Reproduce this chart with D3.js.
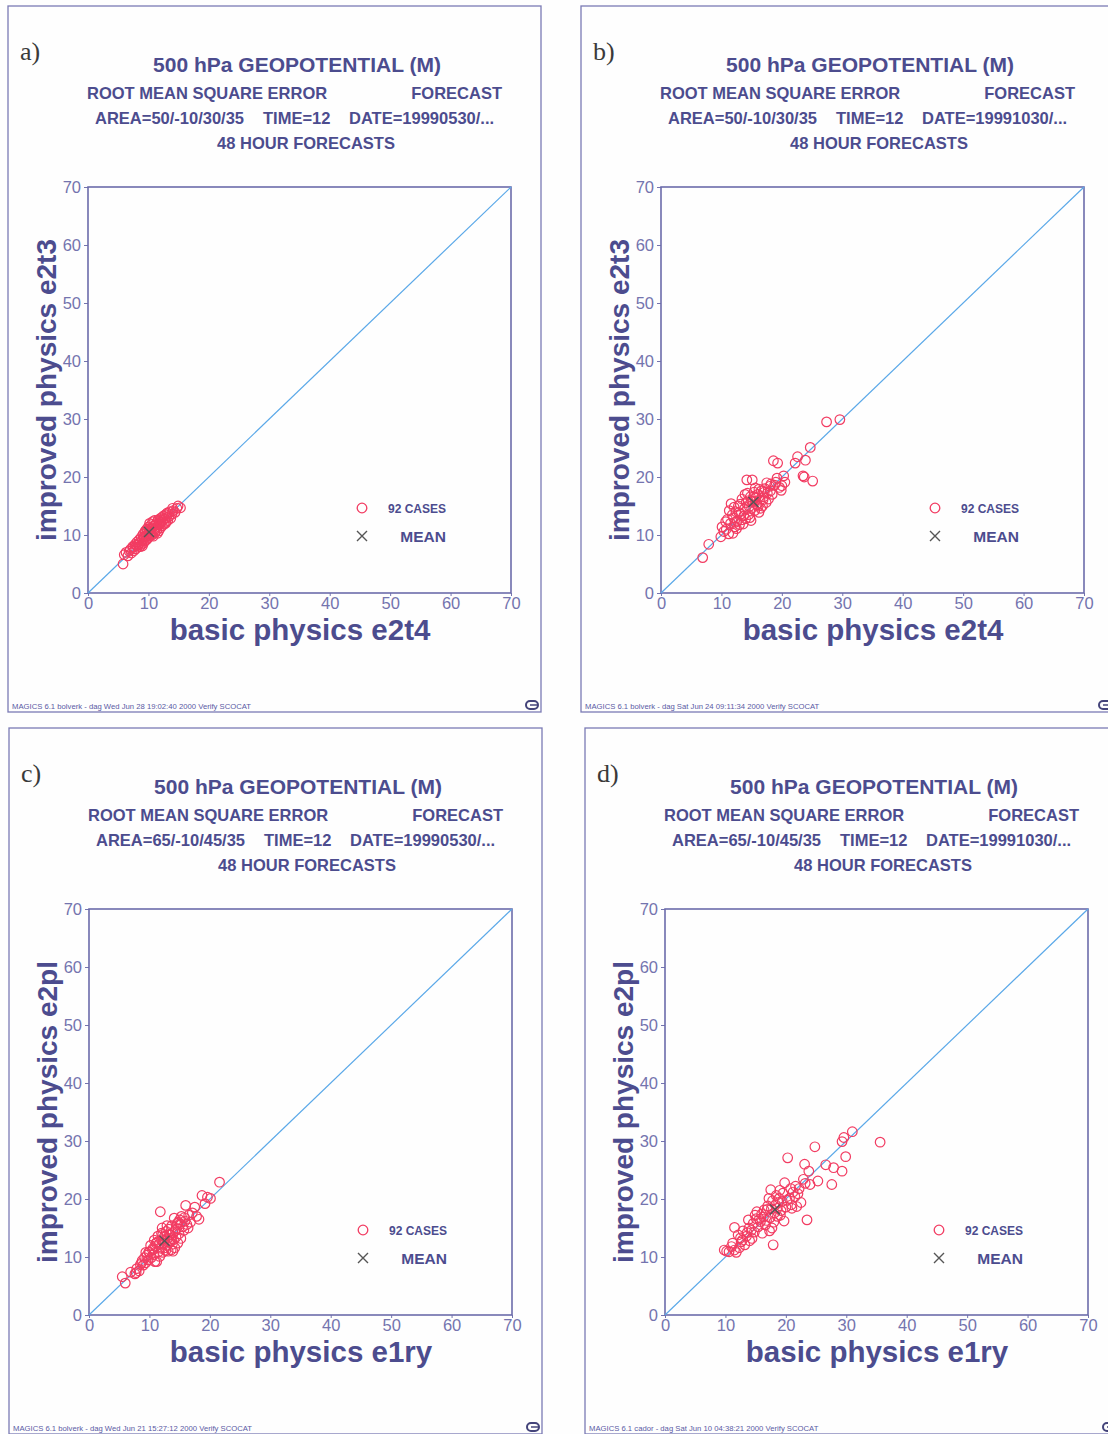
<!DOCTYPE html>
<html>
<head>
<meta charset="utf-8">
<script src="https://cdn.jsdelivr.net/npm/d3@7"></script>
<style>
body { margin: 0; background: #fff; }
text { font-family: "Liberation Sans", Arial, Helvetica, sans-serif; }
</style>
</head>
<body>
<div id="chart"></div>
<script>
// ---- data (rms error, metres) ----
var ticks = [0, 10, 20, 30, 40, 50, 60, 70];

// a) area 50/-10/30/35, may 1999
var aBasic = [5.8,6.0,6.3,6.6,7.0,7.2,7.4,7.6,7.8,7.9,8.1,8.2,8.3,8.5,8.6,8.7,8.8,8.9,9.0,9.1,9.2,9.3,9.4,9.5,9.6,9.7,9.8,9.9,10.0,10.0,10.1,10.2,10.3,10.4,10.5,10.5,10.6,10.7,10.8,10.9,11.0,11.0,11.1,11.2,11.3,11.4,11.5,11.6,11.7,11.8,11.9,12.0,12.1,12.2,12.3,12.4,12.5,12.6,12.7,12.8,12.9,13.0,13.1,13.2,13.4,13.5,13.7,13.9,14.1,14.4,14.7,14.9,15.3,9.0,9.5,10.2,10.8,11.3,8.4,7.5,6.8,12.0,11.5,10.6,9.8,12.8,13.3,10.3,9.3,11.9,8.0,14.0];
var aImproved = [5.0,6.6,7.0,6.4,7.5,6.9,8.0,7.3,8.4,7.6,8.8,7.9,8.3,9.2,8.0,8.7,9.6,8.4,9.0,10.1,8.6,9.4,10.5,9.0,9.8,11.0,9.3,10.2,11.4,9.6,10.6,12.0,9.9,10.9,11.8,10.2,11.2,12.3,9.8,10.7,11.6,12.5,10.4,11.1,12.0,10.9,11.5,12.6,10.7,11.9,12.8,11.2,12.2,13.0,11.6,12.5,13.3,11.9,12.8,13.5,12.2,13.0,13.8,12.5,13.2,14.0,12.9,13.6,14.2,13.9,14.6,15.0,14.7,8.1,10.7,11.0,11.5,11.8,8.5,7.9,7.2,12.0,10.3,10.0,10.7,12.0,13.7,10.3,9.8,12.4,8.3,14.6];

// b) area 50/-10/30/35, oct 1999
var bBasic = [6.9,7.9,9.9,10.1,10.4,10.8,11.2,11.5,11.9,11.3,11.6,12.0,12.2,12.4,12.6,12.8,13.0,13.2,13.4,13.6,13.8,14.0,14.1,14.2,14.3,14.5,14.7,14.8,15.0,15.1,15.2,15.4,15.5,15.7,15.9,16.0,16.2,16.4,16.6,16.8,17.0,17.2,17.4,17.6,17.8,18.0,18.2,18.4,18.6,19.0,19.3,19.6,19.9,20.3,20.5,22.2,22.6,23.5,23.7,23.9,24.7,25.1,27.4,29.6,12.9,13.3,11.0,12.1,14.6,15.8,16.5,17.1,15.3,14.4,13.7,12.5,10.7,16.9,18.1,19.2,17.5,16.2,15.6,13.9,11.8,14.9,16.1,18.8,13.1,20.0,15.0,12.3];
var bImproved = [6.1,8.4,9.7,11.4,10.6,11.0,10.2,12.0,10.3,14.2,15.4,13.0,11.4,14.0,12.4,15.0,11.8,13.6,16.2,11.9,14.5,12.8,15.6,19.5,17.2,13.5,13.0,16.6,14.6,19.5,15.8,17.4,14.2,16.4,15.2,17.0,13.9,16.0,17.6,15.0,16.6,18.0,15.6,17.2,16.2,18.4,18.8,17.0,22.8,19.1,22.4,18.2,17.7,20.2,19.1,22.4,23.5,20.2,20.0,22.9,25.1,19.3,29.5,29.9,13.9,12.6,12.7,14.8,14.9,15.3,14.6,17.4,16.6,15.9,13.3,11.1,12.3,16.1,17.6,19.8,19.0,17.9,18.1,17.0,13.5,12.5,15.0,18.6,15.3,18.5,15.8,12.2];

// c) area 65/-10/45/35, may 1999
var cBasic = [5.5,6.0,6.9,7.6,7.9,8.3,8.5,8.8,9.0,9.2,9.4,9.6,9.8,10.0,10.2,10.3,10.5,10.7,10.9,11.0,11.2,11.3,11.5,11.6,11.8,11.9,12.0,12.1,12.2,12.3,12.5,12.6,12.8,12.9,13.0,13.1,13.2,13.4,13.5,13.6,13.7,13.8,13.9,14.0,14.1,14.2,14.3,14.4,14.6,14.7,14.9,15.0,15.2,15.3,15.5,15.7,15.9,16.0,16.2,16.5,17.1,17.5,18.2,18.7,19.2,20.1,21.6,12.4,11.1,10.6,9.9,8.7,7.8,12.7,13.3,14.5,12.0,11.4,15.8,16.4,13.9,10.8,11.7,12.9,14.8,9.4,13.6,15.1,16.8,17.8,19.6,12.2];
var cImproved = [6.6,5.5,7.4,7.1,8.0,7.6,8.7,9.4,8.6,9.9,9.0,10.3,9.5,10.8,12.0,9.9,11.2,10.4,9.2,11.8,9.2,12.6,10.9,12.2,17.8,11.5,13.0,15.0,10.8,12.4,13.6,11.6,14.4,12.0,13.2,11.0,14.8,12.6,13.8,11.2,15.4,12.2,14.2,13.0,16.7,11.6,14.6,13.4,15.8,12.4,14.0,16.4,13.2,17.0,15.2,14.6,16.2,18.9,15.6,17.2,17.6,18.6,16.5,20.6,19.2,20.1,22.9,12.9,12.4,11.5,10.9,9.0,7.3,11.1,13.9,14.9,14.1,13.6,16.8,15.0,11.0,12.9,10.1,15.4,16.0,10.8,12.9,15.7,16.0,17.0,20.3,13.9];

// d) area 65/-10/45/35, oct 1999
var dBasic = [9.8,10.6,11.0,11.5,11.5,11.8,12.1,12.3,12.6,12.9,13.2,13.5,13.8,14.0,14.3,14.6,14.9,15.2,15.4,15.8,16.1,16.3,16.6,16.9,17.2,17.4,17.5,17.7,17.8,17.9,18.1,18.3,18.6,18.9,19.1,19.4,19.7,19.8,20.0,20.3,20.6,20.9,21.2,21.5,21.8,22.2,22.5,22.9,23.1,23.5,23.8,24.0,24.8,25.3,26.6,27.6,27.9,29.3,29.3,29.6,29.9,31.0,35.6,10.2,11.2,12.8,13.6,14.8,15.6,16.0,16.8,17.0,17.6,18.4,18.8,19.2,19.5,20.2,20.8,21.6,22.0,23.2,16.4,15.1,13.9,12.5,18.0,19.0,21.0,14.4,17.3,18.6];
var dImproved = [11.2,10.9,11.8,11.2,15.1,10.8,13.8,11.6,12.6,14.5,12.1,13.6,16.4,12.8,14.6,15.8,17.2,17.8,15.2,16.1,14.1,16.9,15.5,18.2,20.1,16.8,21.6,15.0,19.7,12.1,17.6,19.0,18.4,20.1,17.2,19.6,16.2,22.8,18.6,27.1,20.1,19.0,21.2,20.4,18.7,21.8,19.4,23.4,26.0,16.4,24.8,22.5,29.0,23.1,25.9,22.5,25.4,24.8,29.9,30.6,27.3,31.6,29.8,11.0,12.4,12.9,14.2,14.3,16.5,17.4,16.3,18.8,18.3,20.6,19.4,18.0,21.0,19.8,21.8,22.2,20.9,22.7,18.1,16.6,15.0,13.3,16.0,21.5,18.4,13.2,14.5,17.0];

// mean position marked in each plot
var meanBasic = [10.1, 15.3, 12.5, 18.2];
var meanImproved = [10.5, 15.7, 12.8, 18.2];

// texts
var panelLetters = ["a)", "b)", "c)", "d)"];
var areaTexts = ["AREA=50/-10/30/35", "AREA=50/-10/30/35", "AREA=65/-10/45/35", "AREA=65/-10/45/35"];
var dateTexts = ["DATE=19990530/...", "DATE=19991030/...", "DATE=19990530/...", "DATE=19991030/..."];
var yTitles = ["improved physics e2t3", "improved physics e2t3", "improved physics e2pl", "improved physics e2pl"];
var xTitles = ["basic physics e2t4", "basic physics e2t4", "basic physics e1ry", "basic physics e1ry"];
var footers = [
    "MAGICS 6.1 bolverk - dag Wed Jun 28 19:02:40 2000 Verify SCOCAT",
    "MAGICS 6.1 bolverk - dag Sat Jun 24 09:11:34 2000 Verify SCOCAT",
    "MAGICS 6.1 bolverk - dag Wed Jun 21 15:27:12 2000 Verify SCOCAT",
    "MAGICS 6.1 cador - dag Sat Jun 10 04:38:21 2000 Verify SCOCAT"
];
var basicSeries = [aBasic, bBasic, cBasic, dBasic];
var improvedSeries = [aImproved, bImproved, cImproved, dImproved];

// ---- layout ----
var width = 1108;
var height = 1434;
var panelLeft = [8, 581, 9, 585];
var panelTop = [6, 6, 728, 728];
var panelW = 533;
var panelH = 706;
var plotL = 80, plotR = 503, plotT = 181, plotB = 587;

var ink = "#4c4c8e";
var tickInk = "#7474ae";

var svg = d3.select("#chart")
    .append("svg")
    .attr("width", width)
    .attr("height", height);

svg.append("rect")
    .attr("width", width)
    .attr("height", height)
    .attr("fill", "#fefefe");

for (var p = 0; p < 4; p++) {
    drawPanel(p);
}

function drawPanel(p) {
    var g = svg.append("g")
        .attr("transform", "translate(" + panelLeft[p] + "," + panelTop[p] + ")");

    // outer frame
    g.append("rect")
        .attr("width", panelW)
        .attr("height", panelH)
        .attr("fill", "none")
        .attr("stroke", "#7a7ab4")
        .attr("stroke-width", 1.3);

    // panel letter
    g.append("text")
        .attr("x", 12)
        .attr("y", 54)
        .attr("font-size", 26)
        .attr("fill", "#3a3a3a")
        .style("font-family", "'Liberation Serif', 'DejaVu Serif', serif")
        .text(panelLetters[p]);

    // header block
    g.append("text")
        .attr("x", 289).attr("y", 66)
        .attr("text-anchor", "middle")
        .attr("font-size", 21).attr("font-weight", "bold")
        .attr("fill", ink)
        .text("500 hPa GEOPOTENTIAL (M)");

    var head = g.append("g")
        .attr("font-size", 16.5)
        .attr("font-weight", "bold")
        .attr("fill", ink);
    head.append("text").attr("x", 79).attr("y", 93).text("ROOT MEAN SQUARE ERROR");
    head.append("text").attr("x", 494).attr("y", 93).attr("text-anchor", "end").text("FORECAST");
    head.append("text").attr("x", 87).attr("y", 118).text(areaTexts[p]);
    head.append("text").attr("x", 255).attr("y", 118).text("TIME=12");
    head.append("text").attr("x", 341).attr("y", 118).text(dateTexts[p]);
    head.append("text").attr("x", 298).attr("y", 143).attr("text-anchor", "middle").text("48 HOUR FORECASTS");

    // scales
    var x = d3.scaleLinear().domain([0, 70]).range([plotL, plotR]);
    var y = d3.scaleLinear().domain([0, 70]).range([plotB, plotT]);

    // axes
    var xAxis = g.append("g")
        .attr("transform", "translate(0," + plotB + ")")
        .call(d3.axisBottom(x).tickValues(ticks).tickSize(3).tickPadding(1));
    var yAxis = g.append("g")
        .attr("transform", "translate(" + plotL + ",0)")
        .call(d3.axisLeft(y).tickValues(ticks).tickSize(4).tickPadding(3));
    [xAxis, yAxis].forEach(function(ax) {
        ax.select(".domain").remove();
        ax.selectAll("line").attr("stroke", tickInk);
        ax.selectAll("text")
            .attr("fill", tickInk)
            .attr("font-size", 16.5)
            .style("font-family", "'Liberation Sans', Arial, sans-serif");
    });

    // plot frame
    g.append("rect")
        .attr("x", plotL)
        .attr("y", plotT)
        .attr("width", plotR - plotL)
        .attr("height", plotB - plotT)
        .attr("fill", "none")
        .attr("stroke", "#6c6cab")
        .attr("stroke-width", 1.6);

    // diagonal
    g.append("line")
        .attr("x1", x(0)).attr("y1", y(0))
        .attr("x2", x(70)).attr("y2", y(70))
        .attr("stroke", "#5aa8e8")
        .attr("stroke-width", 1.2);

    // cases
    var pts = basicSeries[p].map(function(d, i) { return [d, improvedSeries[p][i]]; });
    g.append("g")
        .selectAll("circle")
        .data(pts)
        .enter()
            .append("circle")
            .attr("cx", function(d) { return x(d[0]); })
            .attr("cy", function(d) { return y(d[1]); })
            .attr("r", 4.8)
            .attr("fill", "none")
            .attr("stroke", "#f23c62")
            .attr("stroke-width", 1.2);

    // mean cross
    drawCross(g, x(meanBasic[p]), y(meanImproved[p]), 5);

    // legend
    g.append("circle")
        .attr("cx", 354).attr("cy", 502).attr("r", 4.8)
        .attr("fill", "none").attr("stroke", "#f23c62").attr("stroke-width", 1.3);
    g.append("text")
        .attr("x", 438).attr("y", 506.5)
        .attr("text-anchor", "end")
        .attr("font-size", 12).attr("font-weight", "bold")
        .attr("fill", ink)
        .text("92 CASES");
    drawCross(g, 354, 530, 5);
    g.append("text")
        .attr("x", 438).attr("y", 535.5)
        .attr("text-anchor", "end")
        .attr("font-size", 15.5).attr("font-weight", "bold")
        .attr("fill", ink)
        .text("MEAN");

    // axis titles
    g.append("text")
        .attr("transform", "translate(48,384) rotate(-90)")
        .attr("text-anchor", "middle")
        .attr("font-size", 28).attr("font-weight", "bold")
        .attr("fill", ink)
        .text(yTitles[p]);
    g.append("text")
        .attr("x", 292).attr("y", 634)
        .attr("text-anchor", "middle")
        .attr("font-size", 29.5).attr("font-weight", "bold")
        .attr("fill", ink)
        .text(xTitles[p]);

    // footer
    g.append("text")
        .attr("x", 4).attr("y", 703)
        .attr("font-size", 7.7)
        .attr("fill", "#5a5aa4")
        .text(footers[p]);

    // little logo at bottom right
    var logo = g.append("g").attr("transform", "translate(524,699)");
    logo.append("rect")
        .attr("x", -6).attr("y", -4).attr("width", 12).attr("height", 8)
        .attr("rx", 4).attr("ry", 4)
        .attr("fill", "none").attr("stroke", "#44447a").attr("stroke-width", 2);
    logo.append("line")
        .attr("x1", -2).attr("x2", 6).attr("y1", 0).attr("y2", 0)
        .attr("stroke", "#44447a").attr("stroke-width", 1.5);
}

// the grey x used for the mean
function drawCross(g, cx, cy, s) {
    g.append("path")
        .attr("d", "M" + (cx - s) + "," + (cy - s) + "L" + (cx + s) + "," + (cy + s) +
                   "M" + (cx - s) + "," + (cy + s) + "L" + (cx + s) + "," + (cy - s))
        .attr("stroke", "#555")
        .attr("stroke-width", 1.4)
        .attr("fill", "none");
}
</script>
</body>
</html>
